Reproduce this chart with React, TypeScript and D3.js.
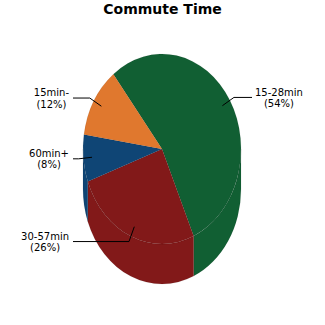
import React from "react";
import * as d3 from "d3";

const title = "Commute Time";
const categories = ["15-28min", "30-57min", "60min+", "15min-"];
const values = [54, 26, 8, 12];
const percentLabels = ["(54%)", "(26%)", "(8%)", "(12%)"];
const colors = ["#115f33", "#821919", "#0f4575", "#e0782e"];

const W = 325;
const H = 325;
const cx = 162;
const cy = 149;
const rx = 79;
const ry = 95;
const depth = 40;
const startDeg = -38;
const FONT = "DejaVu Sans, Verdana, sans-serif";

function measure(text: string, font: string): number {
  if (typeof document === "undefined") return text.length * 6;
  const c = document.createElement("canvas");
  const ctx = c.getContext("2d");
  if (!ctx) return text.length * 6;
  ctx.font = font;
  return ctx.measureText(text).width;
}

function pt(a: number, f = 1, dy = 0): [number, number] {
  return [cx + rx * f * Math.sin(a), cy - ry * f * Math.cos(a) + dy];
}

export default function App() {
  const pie = d3
    .pie<number>()
    .sort(null)
    .value((d) => d)
    .startAngle((startDeg * Math.PI) / 180)
    .endAngle((startDeg * Math.PI) / 180 + 2 * Math.PI);
  const arcs = pie(values);

  const walls: { d: string; color: string; key: string }[] = [];
  arcs.forEach((a, i) => {
    for (let k = -1; k <= 2; k++) {
      const lo = Math.PI / 2 + 2 * Math.PI * k;
      const hi = (3 * Math.PI) / 2 + 2 * Math.PI * k;
      const s = Math.max(a.startAngle, lo);
      const e = Math.min(a.endAngle, hi);
      if (e > s) {
        const p0 = pt(s);
        const p1 = pt(e);
        const b1 = pt(e, 1, depth);
        const b0 = pt(s, 1, depth);
        const d = `M${p0[0]},${p0[1]} A${rx},${ry} 0 0 1 ${p1[0]},${p1[1]} L${b1[0]},${b1[1]} A${rx},${ry} 0 0 0 ${b0[0]},${b0[1]} Z`;
        walls.push({ d, color: colors[i], key: `w${i}_${k}` });
      }
    }
  });

  const tops = arcs.map((a, i) => {
    const p0 = pt(a.startAngle);
    const p1 = pt(a.endAngle);
    const large = a.endAngle - a.startAngle > Math.PI ? 1 : 0;
    const d = `M${cx},${cy} L${p0[0]},${p0[1]} A${rx},${ry} 0 ${large} 1 ${p1[0]},${p1[1]} Z`;
    return { d, color: colors[i] };
  });

  const labelFont = `10px ${FONT}`;
  const labels = arcs.map((a, i) => {
    const mid = (a.startAngle + a.endAngle) / 2;
    const right = Math.sin(mid) > 0;
    const s = pt(mid, 0.89);
    const e = pt(mid, 1.06);
    const endX = right ? cx + 90 : cx - 89;
    const ly = e[1];
    const lines = [categories[i], percentLabels[i]];
    const widths = lines.map((t) => measure(t, labelFont));
    const bw = Math.max(...widths);
    const blockCenter = right ? endX + 3 + bw / 2 : endX - 4 - bw / 2;
    return { s, e, endX, ly, lines, blockCenter };
  });

  return (
    <svg
      width={W}
      height={H}
      style={{ position: "absolute", left: 0, top: 0, background: "#fff" }}
    >
      <rect width={W} height={H} fill="#fff" />
      <text
        x={W / 2}
        y={14.3}
        textAnchor="middle"
        fontFamily={FONT}
        fontWeight="bold"
        fontSize={14}
        fill="#000"
      >
        {title}
      </text>
      {walls.map((w) => (
        <path
          key={w.key}
          d={w.d}
          fill={w.color}
          stroke="rgba(0,0,0,0.1)"
          strokeWidth={0.7}
        />
      ))}
      {tops.map((t, i) => (
        <path
          key={`t${i}`}
          d={t.d}
          fill={t.color}
          stroke="rgba(0,0,0,0.09)"
          strokeWidth={0.7}
        />
      ))}
      {labels.map((l, i) => (
        <g key={`l${i}`}>
          <polyline
            points={`${l.s[0]},${l.s[1]} ${l.e[0]},${l.e[1]} ${l.endX},${l.ly}`}
            fill="none"
            stroke="#000"
            strokeWidth={1}
          />
          <text
            x={l.blockCenter}
            y={l.ly - 1.9}
            textAnchor="middle"
            fontFamily={FONT}
            fontSize={10}
            fill="#000"
          >
            {l.lines[0]}
          </text>
          <text
            x={l.blockCenter}
            y={l.ly + 9.6}
            textAnchor="middle"
            fontFamily={FONT}
            fontSize={10}
            fill="#000"
          >
            {l.lines[1]}
          </text>
        </g>
      ))}
    </svg>
  );
}
